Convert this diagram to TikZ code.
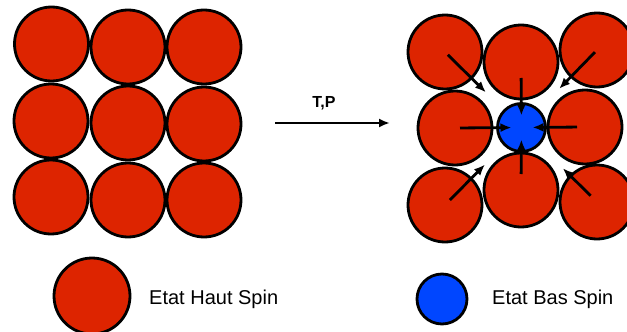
\documentclass[tikz,border=0pt]{standalone}
\usepackage{fontspec}
\setmainfont{Liberation Sans}
\usepackage{tikz}
\usetikzlibrary{arrows.meta}

\definecolor{hsred}{RGB}{221,36,0}
\definecolor{bsblue}{RGB}{0,70,255}

\begin{document}
\begin{tikzpicture}[x=1pt, y=-1pt,
	every node/.style={font=\fontsize{20}{24}\selectfont},
	hs/.style={circle, draw=black, line width=2.8pt, fill=hsred, minimum size=74pt, inner sep=0pt},
	bs/.style={circle, draw=black, line width=2.8pt, fill=bsblue, minimum size=48pt, inner sep=0pt},
	push/.style={line width=2.8pt, -{Latex[length=11pt,width=9pt]}}]
	
	\useasboundingbox (0,0) rectangle (627,332);
	
	% high spin lattice (before)
	\node[hs] (a11) at (51.5,44) {};
	\node[hs] (a12) at (128,47)  {};
	\node[hs] (a13) at (204,47)  {};
	\node[hs] (a21) at (51,121)  {};
	\node[hs] (a22) at (128,123) {};
	\node[hs] (a23) at (204,124) {};
	\node[hs] (a31) at (51,197)  {};
	\node[hs] (a32) at (128,200) {};
	\node[hs] (a33) at (204,200) {};
	
	% transition arrow
	\coordinate (t0) at (275,123);
	\coordinate (t1) at (390,123);
	\draw[line width=2.8pt, -{Latex[length=11pt,width=9pt]}] (t0) -- (t1);
	\node[font=\fontsize{16}{19}\selectfont\bfseries, anchor=base, inner sep=0pt] (tp) at (324,107) {T,P};
	
	% lattice after (T,P): one site becomes low spin
	\node[hs] (b11) at (445,52)  {};
	\node[hs] (b12) at (521,62)  {};
	\node[hs] (b13) at (597,50)  {};
	\node[hs] (b21) at (455,128) {};
	\node[hs] (b23) at (585,127) {};
	\node[hs] (b31) at (445,205) {};
	\node[hs] (b32) at (521,190) {};
	\node[hs] (b33) at (597,202) {};
	\node[bs] (b22) at (521.5,127.5) {};
	
	% neighbours pushed towards the low spin site
	\draw[push, shorten <=16pt, shorten >=12pt] (b12.center) -- (b22.center);
	\draw[push, shorten <=16pt, shorten >=12pt] (b32.center) -- (b22.center);
	\draw[push, shorten <=5pt, shorten >=10pt] (b21.center) -- (b22.center);
	\draw[push, shorten <=8pt, shorten >=11pt] (b23.center) -- (b22.center);
	\draw[push, shorten <=4pt, shorten >=50pt] (b11.center) -- (b22.center);
	\draw[push, shorten <=3pt, shorten >=54pt] (b13.center) -- (b22.center);
	\draw[push, shorten <=7pt, shorten >=52pt] (b31.center) -- (b22.center);
	\draw[push, shorten <=9pt, shorten >=58pt] (b33.center) -- (b22.center);
	
	% legend
	\node[hs, minimum size=76pt] (lhs) at (92,296) {};
	\node[anchor=base west, inner sep=0pt] (lhst) at (149,304) {Etat Haut Spin};
	\node[bs, minimum size=50pt] (lbs) at (442,299) {};
	\node[anchor=base west, inner sep=0pt] (lbst) at (492,304) {Etat Bas Spin};
	
\end{tikzpicture}
\end{document}
